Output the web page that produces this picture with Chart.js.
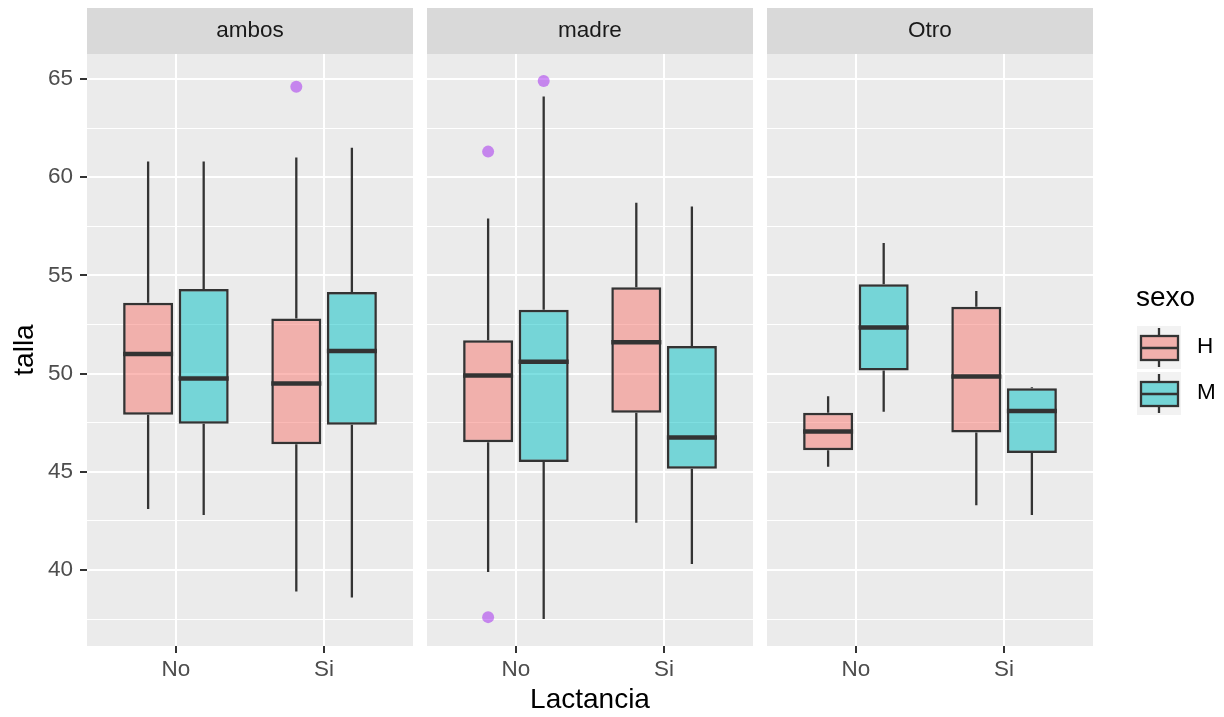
<!DOCTYPE html>
<html>
<head>
<meta charset="utf-8">
<script src="https://cdn.jsdelivr.net/npm/chart.js@4.4.1/dist/chart.umd.min.js"></script>
<style>
  body { margin: 0; background: #ffffff; }
  #wrap { position: relative; width: 1224px; height: 717px; }
  canvas { position: absolute; top: 0; }
</style>
</head>
<body>
<div id="wrap">
  <canvas id="c0" width="413" height="717" style="left:0px"></canvas>
  <canvas id="c1" width="326" height="717" style="left:427px"></canvas>
  <canvas id="c2" width="457" height="717" style="left:767px"></canvas>
</div>
<script>
const facets = ['ambos', 'madre', 'Otro'];
const lactancia = ['No', 'Si'];
const sexo = ['H', 'M'];
const yMajor = [40, 45, 50, 55, 60, 65];
const yMinor = [37.5, 42.5, 47.5, 52.5, 57.5, 62.5];

// [lower whisker, Q1, median, Q3, upper whisker], one row per lactancia (No, Si)
const ambosH = [[43.1, 47.9, 51.0, 53.6, 60.8], [38.9, 46.4, 49.5, 52.8, 61.0]];
const ambosM = [[42.8, 47.45, 49.75, 54.3, 60.8], [38.6, 47.4, 51.15, 54.15, 61.5]];
const madreH = [[39.9, 46.5, 49.9, 51.7, 57.9], [42.4, 48.0, 51.6, 54.4, 58.7]];
const madreM = [[37.5, 45.5, 50.6, 53.25, 64.1], [40.3, 45.15, 46.75, 51.4, 58.5]];
const otroH = [[45.25, 46.1, 47.05, 48.0, 48.85], [43.3, 47.0, 49.85, 53.4, 54.2]];
const otroM = [[48.05, 50.15, 52.35, 54.55, 56.65], [42.8, 45.95, 48.1, 49.25, 49.3]];

// outliers, one list per lactancia (No, Si)
const ambosOutH = [[], [64.6]];
const ambosOutM = [[], []];
const madreOutH = [[61.3, 37.6], []];
const madreOutM = [[64.9], []];
const otroOutH = [[], []];
const otroOutM = [[], []];

const boxes = [[ambosH, ambosM], [madreH, madreM], [otroH, otroM]];
const outs = [[ambosOutH, ambosOutM], [madreOutH, madreOutM], [otroOutH, otroOutM]];

const fills = ['rgba(248,118,109,0.5)', 'rgba(0,191,196,0.5)'];
const outlierColor = 'rgba(160,32,240,0.5)';
const dodge = 0.1875;
const FONT = '"Liberation Sans", Arial, sans-serif';

// y range like ggplot: data range + 5% each side
let all = [];
boxes.forEach(f => f.forEach(s => s.forEach(r => all = all.concat(r))));
outs.forEach(f => f.forEach(s => s.forEach(r => all = all.concat(r))));
const dMin = Math.min(...all), dMax = Math.max(...all);
const yMin = dMin - (dMax - dMin) * 0.05;
const yMax = dMax + (dMax - dMin) * 0.05;

const panelPlugin = {
  id: 'panel',
  beforeDraw(chart, args, opts) {
    const ctx = chart.ctx, a = chart.chartArea;
    ctx.save();
    ctx.fillStyle = '#EBEBEB';
    ctx.fillRect(a.left, a.top, a.right - a.left, a.bottom - a.top);
    ctx.fillStyle = '#D9D9D9';
    ctx.fillRect(a.left, a.top - 46, a.right - a.left, 46);
    ctx.fillStyle = '#1A1A1A';
    ctx.font = '22.5px ' + FONT;
    ctx.textAlign = 'center';
    ctx.textBaseline = 'middle';
    ctx.fillText(opts.label, (a.left + a.right) / 2, a.top - 23);
    ctx.restore();
  }
};

const boxPlugin = {
  id: 'boxWhiskers',
  afterDatasetsDraw(chart) {
    const ctx = chart.ctx, y = chart.scales.y;
    chart.data.datasets.forEach((ds, d) => {
      if (!ds.stats) return;
      chart.getDatasetMeta(d).data.forEach((bar, i) => {
        const s = ds.stats[i];
        const p = bar.getProps(['x', 'width'], true);
        ctx.save();
        ctx.strokeStyle = '#333333';
        ctx.lineWidth = 2.3;
        ctx.beginPath();
        ctx.moveTo(p.x, y.getPixelForValue(s[0]));
        ctx.lineTo(p.x, y.getPixelForValue(s[1]));
        ctx.moveTo(p.x, y.getPixelForValue(s[3]));
        ctx.lineTo(p.x, y.getPixelForValue(s[4]));
        ctx.stroke();
        ctx.lineWidth = 4.5;
        ctx.beginPath();
        ctx.moveTo(p.x - p.width / 2, y.getPixelForValue(s[2]));
        ctx.lineTo(p.x + p.width / 2, y.getPixelForValue(s[2]));
        ctx.stroke();
        ctx.restore();
      });
    });
  }
};

const legendPlugin = {
  id: 'boxLegend',
  afterDraw(chart) {
    const ctx = chart.ctx;
    const L = chart.chartArea.right + 44;
    ctx.save();
    ctx.fillStyle = '#000000';
    ctx.font = '28px ' + FONT;
    ctx.textAlign = 'left';
    ctx.textBaseline = 'middle';
    ctx.fillText('sexo', L - 1, 298);
    sexo.forEach((name, k) => {
      const top = 326 + 46 * k;
      ctx.fillStyle = '#F2F2F2';
      ctx.fillRect(L, top, 44, 43);
      ctx.fillStyle = '#EBEBEB';
      ctx.fillRect(L + 4, top + 10, 37, 24);
      ctx.fillStyle = fills[k];
      ctx.fillRect(L + 4, top + 10, 37, 24);
      ctx.strokeStyle = '#333333';
      ctx.lineWidth = 2.3;
      ctx.strokeRect(L + 4, top + 10, 37, 24);
      ctx.beginPath();
      ctx.moveTo(L + 22, top + 2); ctx.lineTo(L + 22, top + 10);
      ctx.moveTo(L + 22, top + 34); ctx.lineTo(L + 22, top + 41);
      ctx.moveTo(L + 4, top + 22); ctx.lineTo(L + 41, top + 22);
      ctx.stroke();
      ctx.fillStyle = '#000000';
      ctx.font = '22.5px ' + FONT;
      ctx.fillText(name, L + 60, top + 21);
    });
    ctx.restore();
  }
};

function makeFacet(f, canvasId, showY, showXTitle, padRight, extra) {
  const datasets = sexo.map((name, s) => ({
    type: 'bar',
    label: name,
    data: lactancia.map((lab, i) => ({ x: i + 1, y: [boxes[f][s][i][1], boxes[f][s][i][3]] })),
    stats: boxes[f][s],
    backgroundColor: fills[s],
    borderColor: '#333333',
    borderWidth: 2.5,
    borderSkipped: false
  }));
  sexo.forEach((name, s) => {
    const pts = [];
    lactancia.forEach((lab, i) => {
      outs[f][s][i].forEach(v => pts.push({ x: i + 1 + (s === 0 ? -dodge : dodge), y: v }));
    });
    datasets.push({
      type: 'scatter',
      label: name + ' outliers',
      data: pts,
      backgroundColor: outlierColor,
      borderWidth: 0,
      pointRadius: 6
    });
  });

  const yTicks = yMinor.concat(yMajor).sort((a, b) => a - b);

  return new Chart(document.getElementById(canvasId), {
    type: 'bar',
    data: { datasets },
    plugins: [panelPlugin, boxPlugin].concat(extra || []),
    options: {
      responsive: false,
      animation: false,
      events: [],
      categoryPercentage: 0.75,
      barPercentage: 0.9,
      layout: { autoPadding: false, padding: { top: 54, left: 0, right: padRight, bottom: 0 } },
      plugins: {
        legend: { display: false },
        tooltip: { enabled: false },
        panel: { label: facets[f] }
      },
      scales: {
        x: {
          type: 'linear',
          min: 0.4,
          max: 2.6,
          offset: false,
          afterBuildTicks: s => { s.ticks = lactancia.map((lab, i) => ({ value: i + 1 })); },
          afterFit: s => { s.height = 71; s.paddingLeft = 0; s.paddingRight = 0; },
          border: { display: false },
          grid: { color: '#FFFFFF', lineWidth: 2, offset: false, tickColor: '#333333', tickLength: 7, tickWidth: 2 },
          ticks: {
            callback: v => lactancia[v - 1],
            color: '#4D4D4D',
            font: { family: FONT, size: 22.5 },
            padding: 3,
            maxRotation: 0,
            autoSkip: false
          },
          title: {
            display: showXTitle,
            text: 'Lactancia',
            color: '#000000',
            font: { family: FONT, size: 28 },
            padding: { top: 0, bottom: 0 }
          }
        },
        y: {
          type: 'linear',
          min: yMin,
          max: yMax,
          afterBuildTicks: s => { s.ticks = yTicks.map(v => ({ value: v })); },
          afterFit: s => { s.width = showY ? 87 : 0; s.paddingTop = 0; s.paddingBottom = 0; },
          border: { display: false },
          grid: {
            color: '#FFFFFF',
            lineWidth: c => (yMajor.includes(c.tick.value) ? 2 : 1),
            drawTicks: showY,
            tickColor: c => (yMajor.includes(c.tick.value) ? '#333333' : 'rgba(0,0,0,0)'),
            tickLength: 7,
            tickWidth: 2
          },
          ticks: {
            display: showY,
            callback: v => (yMajor.includes(v) ? String(v) : ''),
            color: '#4D4D4D',
            font: { family: FONT, size: 22.5 },
            padding: 7,
            autoSkip: false
          },
          title: {
            display: showY,
            text: 'talla',
            color: '#000000',
            font: { family: FONT, size: 28 },
            padding: { top: 8, bottom: 0 }
          }
        }
      }
    }
  });
}

makeFacet(0, 'c0', true, false, 0);
makeFacet(1, 'c1', false, true, 0);
makeFacet(2, 'c2', false, false, 131, [legendPlugin]);
</script>
</body>
</html>
